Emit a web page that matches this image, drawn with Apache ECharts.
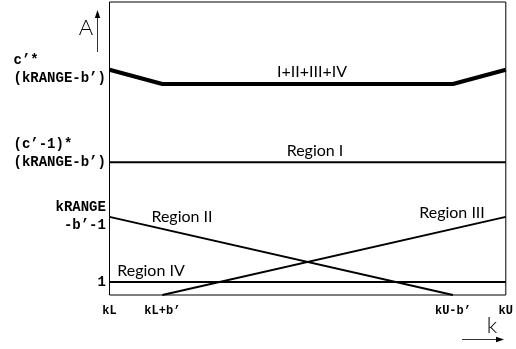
<!DOCTYPE html>
<html>
<head>
<meta charset="utf-8">
<script src="https://cdn.jsdelivr.net/npm/echarts@6/dist/echarts.min.js"></script>
<style>
  html, body { margin: 0; padding: 0; background: #fff; }
  #chart { width: 516px; height: 349px; }
</style>
</head>
<body>
<div id="chart"></div>
<script>
// Breakpoints along k: kL, kL+b', kU-b', kU
const kTicks = [0, 2, 13, 15];
const kTickLabels = ['kL', 'kL+b’', 'kU-b’', 'kU'];

// Marked levels on the A axis and their labels
const aTicks = [1, 6, 10.2, 17.3];
const aTickLabels = [
  '          1',
  '     kRANGE\n      -b’-1',
  '(c’-1)*\n(kRANGE-b’)\n ',
  'c’*\n(kRANGE-b’)'
];

// Total I+II+III+IV
const totalK = [0, 2, 13, 15];
const totalA = [17.3, 16.2, 16.2, 17.3];

// Region I
const region1K = [0, 15];
const region1A = [10.2, 10.2];

// Region II (falls to zero at kU-b')
const region2K = [0, 13];
const region2A = [6, 0];

// Region III (rises from zero at kL+b')
const region3K = [2, 15];
const region3A = [0, 6];

// Region IV
const region4K = [0, 15];
const region4A = [1, 1];

const pairs = (xs, ys) => xs.map((x, i) => [x, ys[i]]);

const monoFont = '"Liberation Mono", "DejaVu Sans Mono", monospace';
const sansFont = 'Lato, "Liberation Sans", sans-serif';

function lineSeries(name, xs, ys, width) {
  return {
    name: name,
    type: 'line',
    data: pairs(xs, ys),
    symbol: 'none',
    silent: true,
    lineStyle: { color: '#000', width: width },
    z: 3
  };
}

function note(text, x, y, size, weight) {
  return {
    type: 'text', x: x, y: y,
    style: {
      text: text, font: (weight || 'normal') + ' ' + size + 'px ' + sansFont, fill: '#000',
      align: 'center', verticalAlign: 'middle'
    }
  };
}

const chart = echarts.init(document.getElementById('chart'), null, { renderer: 'canvas' });

chart.setOption({
  animation: false,
  backgroundColor: '#fff',
  grid: {
    left: 109.5, right: 10, top: 2, bottom: 54,
    show: true, borderColor: '#000', borderWidth: 1, backgroundColor: 'transparent'
  },
  xAxis: {
    type: 'value', min: 0, max: 15,
    axisLine: { show: false },
    axisTick: { show: false },
    splitLine: { show: false },
    axisLabel: {
      customValues: kTicks,
      formatter: v => kTickLabels[kTicks.indexOf(v)],
      margin: 10,
      fontFamily: monoFont,
      fontWeight: 'bold',
      fontSize: 12,
      color: '#000'
    }
  },
  yAxis: {
    type: 'value', min: 0, max: 22.5,
    axisLine: { show: false },
    axisTick: { show: false },
    splitLine: { show: false },
    axisLabel: {
      customValues: aTicks,
      formatter: v => aTickLabels[aTicks.indexOf(v)],
      align: 'left',
      margin: 96,
      lineHeight: 18,
      fontFamily: monoFont,
      fontWeight: 'bold',
      fontSize: 14,
      color: '#000'
    }
  },
  series: [
    lineSeries('I+II+III+IV', totalK, totalA, 4),
    lineSeries('Region I', region1K, region1A, 2),
    lineSeries('Region II', region2K, region2A, 2),
    lineSeries('Region III', region3K, region3A, 2),
    lineSeries('Region IV', region4K, region4A, 2)
  ],
  graphic: [
    // curve labels
    note('I+II+III+IV', 312, 72, 16),
    note('Region I', 315, 151, 16),
    note('Region II', 182, 217, 16),
    note('Region III', 452, 213, 16),
    note('Region IV', 151, 271, 16),
    // axis names with arrows
    note('A', 86, 28, 22, 300),
    { type: 'line', shape: { x1: 97.5, y1: 52, x2: 97.5, y2: 16 }, style: { stroke: '#333', lineWidth: 1 } },
    { type: 'polygon', shape: { points: [[97.5, 10], [94.8, 18], [100.2, 18]] }, style: { fill: '#000' } },
    note('k', 492, 326, 22, 300),
    { type: 'line', shape: { x1: 462, y1: 339.5, x2: 498, y2: 339.5 }, style: { stroke: '#333', lineWidth: 1 } },
    { type: 'polygon', shape: { points: [[504, 339.5], [496, 336.8], [496, 342.2]] }, style: { fill: '#000' } }
  ]
});
</script>
</body>
</html>
